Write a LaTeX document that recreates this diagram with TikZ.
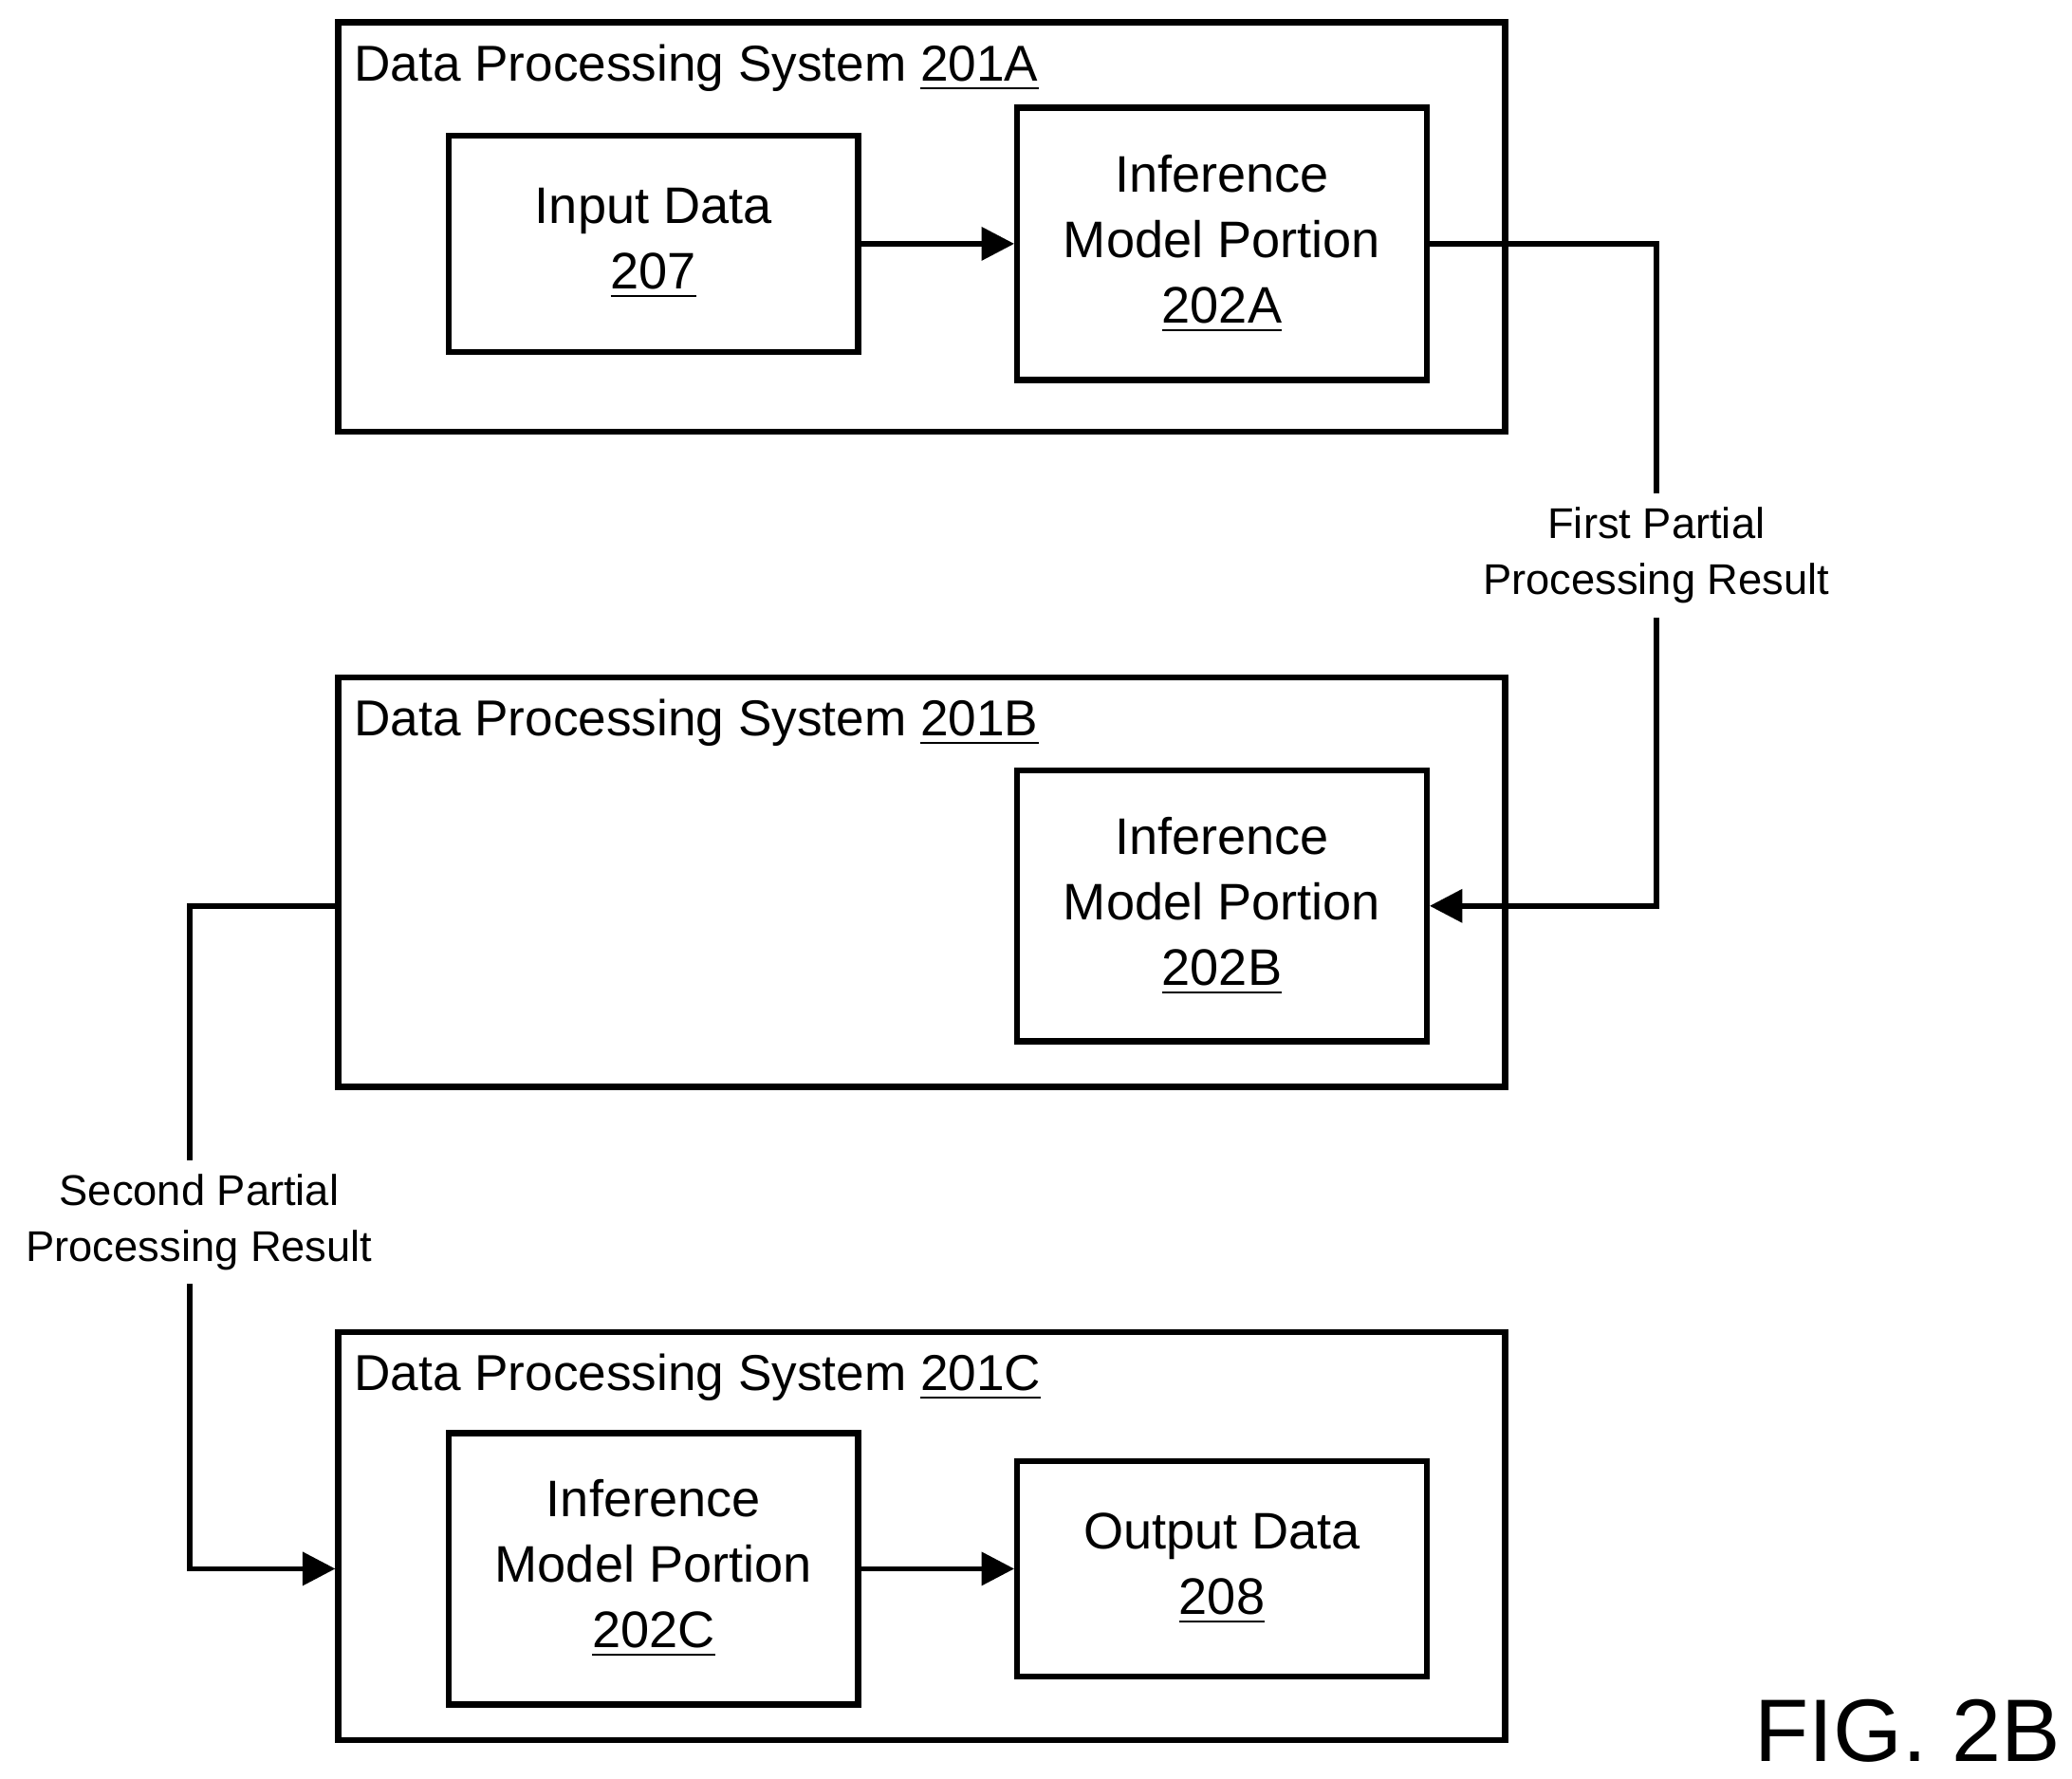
\documentclass[tikz,border=0pt]{standalone}
\usepackage{fontspec}
\setmainfont{Liberation Sans}
\usetikzlibrary{arrows.meta}
\begin{document}
\begin{tikzpicture}[x=0.01cm,y=-0.01cm,
  sys/.style={draw,line width=1.3pt,inner sep=0pt},
  box/.style={draw,line width=1.3pt,inner sep=0pt,align=center,font=\fontsize{11}{14}\selectfont},
  ttl/.style={anchor=west,inner sep=0pt,font=\fontsize{10.8}{13}\selectfont},
  lbl/.style={fill=white,align=center,inner sep=3pt,font=\fontsize{9.2}{12}\selectfont},
  con/.style={line width=1.1pt},
  arr/.style={con,-{Triangle[length=7pt,width=7pt]}}]
\useasboundingbox (0,0) rectangle (1560,1339);
% systems
\node[sys,minimum width=8.78cm,minimum height=3.08cm] (sA) at (694,171) {};
\node[sys,minimum width=8.78cm,minimum height=3.08cm] (sB) at (694,664) {};
\node[sys,minimum width=8.78cm,minimum height=3.07cm] (sC) at (694,1156.5) {};
\node[ttl] (tA) at (266,51) {Data Processing System \underline{201A}};
\node[ttl] (tB) at (266,544) {Data Processing System \underline{201B}};
\node[ttl] (tC) at (266,1037) {Data Processing System \underline{201C}};
% inner boxes
\node[box,minimum width=3.08cm,minimum height=1.63cm] (in) at (492,183.5) {Input Data\\\underline{207}};
\node[box,minimum width=3.08cm,minimum height=2.05cm] (mA) at (920,183.5) {Inference\\Model Portion\\\underline{202A}};
\node[box,minimum width=3.08cm,minimum height=2.04cm] (mB) at (920,682) {Inference\\Model Portion\\\underline{202B}};
\node[box,minimum width=3.08cm,minimum height=2.04cm] (mC) at (492,1181) {Inference\\Model Portion\\\underline{202C}};
\node[box,minimum width=3.08cm,minimum height=1.62cm] (out) at (920,1181) {Output Data\\\underline{208}};
% connectors
\draw[arr] (in) -- (mA);
\draw[arr] (mC) -- (out);
\coordinate (c1) at (1247,183.5);
\coordinate (c2) at (1247,682);
\draw[arr] (mA.east) -- (c1) -- (c2) -- (mB.east);
\node[lbl] (l1) at (1247,418) {First Partial\\Processing Result};
\coordinate (c3) at (143,682);
\coordinate (c4) at (143,1181);
\draw[arr] (sB.west |- mB) -- (c3) -- (c4) -- (sC.west |- mC);
\node[lbl] (l2) at (150,920) {Second Partial\\Processing Result};
\node[font=\fontsize{19}{22}\selectfont,inner sep=0pt] (fig) at (1436,1303) {FIG. 2B};
\end{tikzpicture}
\end{document}
